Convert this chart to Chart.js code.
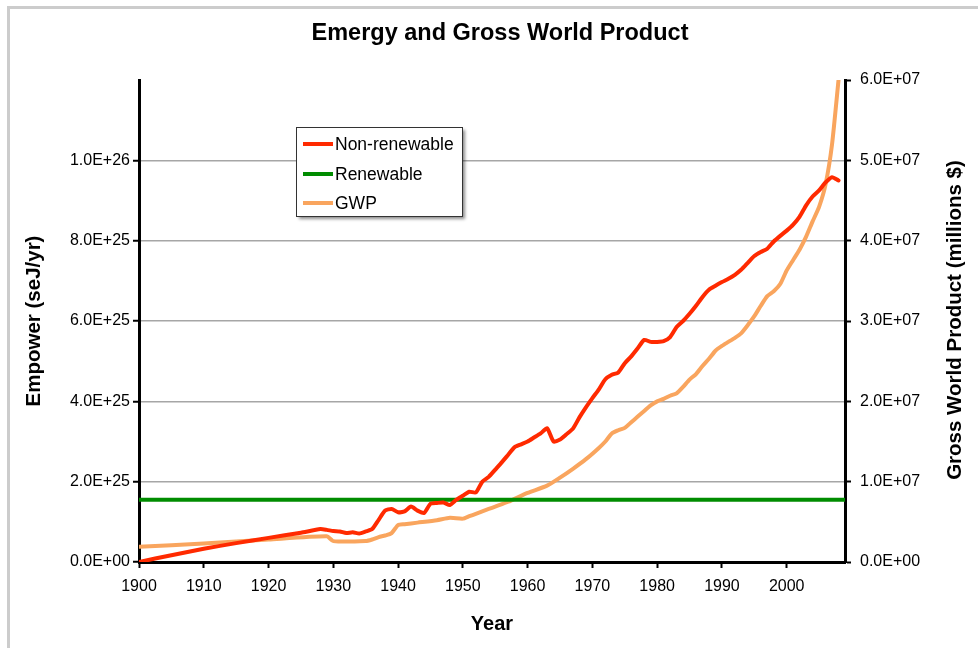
<!DOCTYPE html>
<html>
<head>
<meta charset="utf-8">
<script src="https://cdn.jsdelivr.net/npm/chart.js@4.4.1/dist/chart.umd.min.js"></script>
<style>
  html, body { margin: 0; padding: 0; background: #ffffff; }
  #wrap { width: 978px; height: 648px; position: relative; }
</style>
</head>
<body>
<div id="wrap"><canvas id="c" width="978" height="648"></canvas></div>
<script>
// ---------- data ----------
const chartTitle = 'Emergy and Gross World Product';
const xTitle = 'Year';
const yLeftTitle = 'Empower (seJ/yr)';
const yRightTitle = 'Gross World Product (millions $)';

const nonRenewableLabel = 'Non-renewable';
const nonRenewableYears = [1900,1905,1910,1915,1920,1925,1928,1929,1930,1931,1932,1933,1934,1935,1936,1937,1938,1939,1940,1941,1942,1943,1944,1945,1946,1947,1948,1949,1950,1951,1952,1953,1954,1955,1956,1957,1958,1959,1960,1961,1962,1963,1964,1965,1966,1967,1968,1969,1970,1971,1972,1973,1974,1975,1976,1977,1978,1979,1980,1981,1982,1983,1984,1985,1986,1987,1988,1989,1990,1991,1992,1993,1994,1995,1996,1997,1998,1999,2000,2001,2002,2003,2004,2005,2006,2007,2008];
const nonRenewableValues = [0,0.17e25,0.33e25,0.47e25,0.6e25,0.73e25,0.82e25,0.8e25,0.77e25,0.76e25,0.72e25,0.74e25,0.71e25,0.76e25,0.82e25,1.05e25,1.28e25,1.32e25,1.24e25,1.26e25,1.38e25,1.28e25,1.22e25,1.45e25,1.47e25,1.48e25,1.42e25,1.55e25,1.65e25,1.75e25,1.73e25,2.0e25,2.12e25,2.3e25,2.48e25,2.67e25,2.86e25,2.93e25,3.0e25,3.1e25,3.2e25,3.33e25,3.0e25,3.05e25,3.18e25,3.32e25,3.6e25,3.85e25,4.08e25,4.3e25,4.55e25,4.66e25,4.72e25,4.95e25,5.12e25,5.32e25,5.53e25,5.48e25,5.48e25,5.5e25,5.6e25,5.85e25,6.0e25,6.18e25,6.38e25,6.6e25,6.78e25,6.88e25,6.97e25,7.05e25,7.15e25,7.28e25,7.45e25,7.62e25,7.72e25,7.8e25,7.98e25,8.12e25,8.25e25,8.4e25,8.6e25,8.88e25,9.1e25,9.25e25,9.45e25,9.58e25,9.5e25];

const renewableLabel = 'Renewable';
const renewableYears = [1900, 2009];
const renewableValues = [1.55e25, 1.55e25];

const gwpLabel = 'GWP';
const gwpYears = [1900,1910,1920,1929,1930,1935,1936,1937,1938,1939,1940,1941,1943,1946,1948,1950,1951,1952,1954,1955,1957,1960,1963,1965,1967,1969,1971,1972,1973,1974,1975,1976,1977,1978,1979,1980,1981,1982,1983,1984,1985,1986,1987,1988,1989,1990,1991,1992,1993,1994,1995,1996,1997,1998,1999,2000,2001,2002,2003,2004,2005,2006,2007,2008];
const gwpValues = [1.9e6,2.3e6,2.8e6,3.2e6,2.6e6,2.6e6,2.8e6,3.1e6,3.3e6,3.6e6,4.6e6,4.7e6,4.9e6,5.2e6,5.5e6,5.4e6,5.7e6,6.0e6,6.6e6,6.9e6,7.5e6,8.6e6,9.5e6,10.5e6,11.6e6,12.8e6,14.2e6,15.0e6,16.0e6,16.4e6,16.7e6,17.4e6,18.1e6,18.8e6,19.5e6,20.0e6,20.3e6,20.7e6,21.0e6,21.8e6,22.7e6,23.4e6,24.4e6,25.3e6,26.3e6,26.9e6,27.4e6,27.9e6,28.5e6,29.5e6,30.6e6,31.9e6,33.1e6,33.7e6,34.6e6,36.3e6,37.6e6,38.9e6,40.5e6,42.4e6,44.2e6,47.0e6,52.0e6,60.0e6];

const xTickStep = 10;
const yLeftMax = 1.2e26, yLeftStep = 2e25;
const yRightMax = 6e7, yRightStep = 1e7;
const xMin = 1900, xMax = 2009;

// ---------- helpers ----------
const FONT = "'Liberation Sans', Arial, Helvetica, sans-serif";
function fmtE(v) {
  let s = Number(v).toExponential(1).toUpperCase();
  return s.replace(/E([+-])(\d)$/, 'E$10$2');
}
function pts(xs, ys) { return xs.map((x, i) => ({ x: x, y: ys[i] })); }

const frame = {
  id: 'frame',
  beforeDraw(chart) {
    const c = chart.ctx;
    c.save();
    c.fillStyle = '#ffffff';
    c.fillRect(0, 0, chart.width, chart.height);
    c.strokeStyle = '#cccccc';
    c.lineWidth = 3;
    c.beginPath();
    c.moveTo(8.5, chart.height);
    c.lineTo(8.5, 7.5);
    c.lineTo(chart.width, 7.5);
    c.stroke();
    c.restore();
  }
};

// chart title and right axis title (reads bottom-to-top like the reference)
const texts = {
  id: 'texts',
  afterDraw(chart) {
    const c = chart.ctx;
    const a = chart.chartArea;
    c.save();
    c.fillStyle = '#000000';
    c.font = 'bold 23.5px ' + FONT;
    c.textAlign = 'center';
    c.textBaseline = 'middle';
    c.fillText(chartTitle, 500, 34);
    c.translate(955, (a.top + a.bottom) / 2 - 1);
    c.rotate(-Math.PI / 2);
    c.font = 'bold 20.5px ' + FONT;
    c.fillText(yRightTitle, 0, 0);
    c.restore();
  }
};

const boxLegend = {
  id: 'boxLegend',
  afterDatasetsDraw(chart) {
    const c = chart.ctx;
    const bx = 296, by = 127, bw = 166, bh = 89;
    c.save();
    c.shadowColor = 'rgba(0,0,0,0.45)';
    c.shadowBlur = 3;
    c.shadowOffsetX = 3;
    c.shadowOffsetY = 3;
    c.fillStyle = '#ffffff';
    c.fillRect(bx, by, bw, bh);
    c.restore();
    c.save();
    c.strokeStyle = '#333333';
    c.lineWidth = 1;
    c.strokeRect(bx + 0.5, by + 0.5, bw, bh);
    const ys = [144, 174, 203];
    chart.data.datasets.forEach((ds, i) => {
      c.strokeStyle = ds.borderColor;
      c.lineWidth = 4;
      c.beginPath();
      c.moveTo(303, ys[i]);
      c.lineTo(333, ys[i]);
      c.stroke();
      c.fillStyle = '#000000';
      c.font = '17.5px ' + FONT;
      c.textBaseline = 'middle';
      c.textAlign = 'left';
      c.fillText(ds.label, 335, ys[i] + 1);
    });
    c.restore();
  }
};

const ctx = document.getElementById('c').getContext('2d');
new Chart(ctx, {
  type: 'line',
  data: {
    datasets: [
      { label: nonRenewableLabel, data: pts(nonRenewableYears, nonRenewableValues), borderColor: '#ff2a00', borderWidth: 4, pointRadius: 0, yAxisID: 'y', tension: 0.2, borderJoinStyle: 'round', borderCapStyle: 'round' },
      { label: renewableLabel, data: pts(renewableYears, renewableValues), borderColor: '#008c00', borderWidth: 4, pointRadius: 0, yAxisID: 'y' },
      { label: gwpLabel, data: pts(gwpYears, gwpValues), borderColor: '#f9a55e', borderWidth: 4, pointRadius: 0, yAxisID: 'y2', tension: 0.2, borderJoinStyle: 'round', borderCapStyle: 'round' }
    ]
  },
  options: {
    responsive: false,
    animation: false,
    layout: { padding: { left: 0, right: 0, top: 80, bottom: 0 } },
    plugins: {
      legend: { display: false },
      tooltip: { enabled: false },
      title: { display: false }
    },
    scales: {
      x: {
        type: 'linear', min: xMin, max: xMax, bounds: 'data',
        afterBuildTicks: s => { s.ticks = s.ticks.filter(t => Math.abs(t.value % xTickStep) < 1e-6); },
        ticks: { stepSize: xTickStep, includeBounds: false, color: '#000000', font: { family: FONT, size: 16 }, padding: 9, maxRotation: 0, autoSkip: false, callback: v => String(v) },
        grid: { drawOnChartArea: false, drawTicks: true, tickLength: 6, tickColor: '#000000', tickWidth: 2 },
        border: { display: true, color: '#000000', width: 3 },
        title: { display: true, text: xTitle, color: '#000000', font: { family: FONT, size: 20, weight: 'bold' }, padding: { top: 0, bottom: 12 } },
        afterFit: s => { s.height = 86; }
      },
      y: {
        position: 'left', min: 0, max: yLeftMax,
        ticks: { stepSize: yLeftStep, color: '#000000', font: { family: FONT, size: 16 }, padding: 3, callback: v => (v > 1.1e26 ? '' : fmtE(v)) },
        grid: {
          drawOnChartArea: true, drawTicks: true, tickLength: 6, tickWidth: 2,
          color: c => (c.tick && (c.tick.value > 1e24 && c.tick.value < 1.1e26) ? '#a6a6a6' : 'rgba(0,0,0,0)'),
          lineWidth: 1.5,
          tickColor: c => (c.tick && c.tick.value > 1.1e26 ? 'rgba(0,0,0,0)' : '#000000')
        },
        border: { display: true, color: '#000000', width: 3 },
        title: { display: true, text: yLeftTitle, color: '#000000', font: { family: FONT, size: 20.5, weight: 'bold' }, padding: { top: 22.5, bottom: 0 } },
        afterFit: s => { s.width = 139; }
      },
      y2: {
        position: 'right', min: 0, max: yRightMax,
        ticks: { stepSize: yRightStep, color: '#000000', font: { family: FONT, size: 16 }, padding: 9, callback: v => fmtE(v) },
        grid: { drawOnChartArea: false, drawTicks: true, tickLength: 6, tickWidth: 2, tickColor: '#000000' },
        border: { display: true, color: '#000000', width: 3 },
        title: { display: false },
        afterFit: s => { s.width = 978 - 845; }
      }
    }
  },
  plugins: [frame, boxLegend, texts]
});
</script>
</body>
</html>
